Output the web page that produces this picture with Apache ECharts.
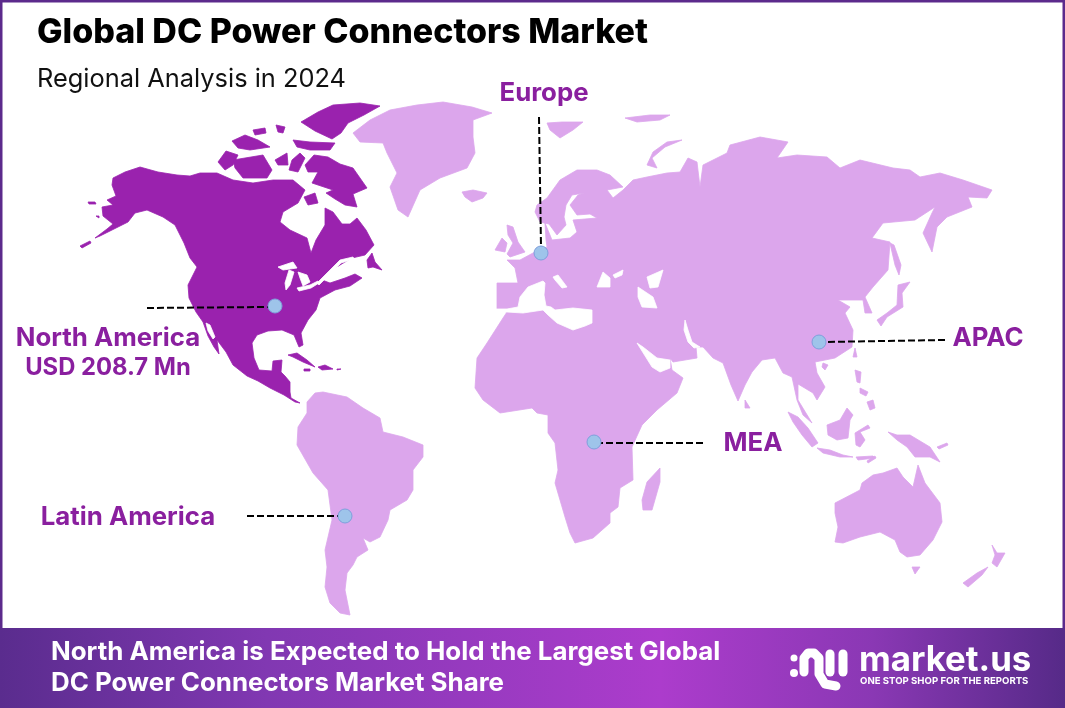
<!DOCTYPE html>
<html>
<head>
<meta charset="utf-8">
<title>Global DC Power Connectors Market</title>
<script src="https://cdn.jsdelivr.net/npm/echarts@6/dist/echarts.min.js"></script>
<style>
  html, body { margin: 0; padding: 0; background: #fff; }
  #chart { width: 1065px; height: 708px; }
</style>
</head>
<body>
<div id="chart"></div>
<script>
var titleText = 'Global DC Power Connectors Market';
var subtitleText = 'Regional Analysis in 2024';
var bannerLines = ['North America is Expected to Hold the Largest Global', 'DC Power Connectors Market Share'];

// callouts, map coordinates are the pixels of the picture
var regionLabels = ['North America\n{v|USD 208.7 Mn}', 'Europe', 'APAC', 'MEA', 'Latin America'];
var labelCoords = [[108, 353], [544, 93], [988, 338], [753, 443], [128, 517]];
var markerCoords = [[275, 306], [541, 253], [819, 342], [594, 442], [345, 516]];
var leaderStarts = [[147, 308], [539, 117], [945, 340], [703, 443], [247, 516]];
var leaderEnds = [[268, 307], [541, 247], [825, 342], [600, 443], [338, 516]];

// outlines
var northAmerica = [
  [[113,178],[125,172],[140,167],[158,172],[177,175],[190,176],[200,173],[217,173],[233,180],[253,183],[273,180],[293,180],[305,190],[298,203],[283,212],[280,222],[290,230],[307,238],[311,253],[316,240],[325,225],[325,208],[333,212],[342,224],[350,224],[357,218],[366,230],[374,245],[365,255],[352,258],[345,262],[335,268],[322,280],[330,283],[345,278],[355,274],[362,278],[350,286],[335,290],[320,298],[316,310],[308,320],[301,333],[303,345],[299,347],[294,335],[282,330],[268,331],[257,335],[252,343],[254,358],[259,370],[272,371],[273,361],[282,360],[281,372],[285,376],[290,382],[290,392],[291,398],[300,403],[295,402],[284,395],[270,388],[258,381],[247,376],[233,365],[226,352],[217,340],[219,354],[214,347],[208,336],[203,322],[196,312],[189,298],[188,285],[197,267],[190,258],[184,243],[175,225],[163,217],[147,210],[135,213],[128,222],[112,230],[100,236],[95,238],[107,229],[113,224],[103,216],[102,207],[113,205],[107,200],[116,196],[112,185]],
  [[218,162],[226,151],[238,155],[233,165],[225,170]],
  [[233,160],[263,155],[272,170],[267,178],[243,178],[235,168]],
  [[275,160],[287,153],[288,165],[278,165]],
  [[289,170],[292,160],[300,153],[305,158],[298,172]],
  [[305,165],[314,155],[328,157],[340,164],[353,168],[367,188],[353,194],[357,207],[345,205],[335,199],[326,193],[333,190],[318,185],[312,183],[318,172],[308,172]],
  [[304,197],[315,193],[318,203],[308,205]],
  [[232,141],[245,135],[258,140],[270,147],[250,150],[238,148]],
  [[253,130],[265,128],[266,133],[255,135]],
  [[276,125],[285,127],[283,133],[278,132]],
  [[293,140],[310,142],[335,143],[330,150],[310,150],[297,147]],
  [[301,122],[318,112],[333,105],[360,103],[380,106],[364,115],[348,123],[341,133],[332,139],[315,131]],
  [[367,260],[372,253],[375,262],[382,270],[373,267],[368,268]],
  [[288,355],[297,353],[307,360],[315,367],[303,362],[293,357]],
  [[318,367],[325,365],[333,369],[322,370]],
  [[304,369],[310,369],[310,371],[304,371]],
  [[337,369],[341,369],[341,370],[337,370]],
  [[80,246],[90,241],[91,243],[82,248]],
  [[88,202],[95,202],[96,204],[89,204]],
  [[96,216],[99,216],[99,218]]
];

var eurasiaAfrica = [[497,283],[518,283],[515,268],[507,260],[520,260],[533,253],[547,247],[546,240],[545,223],[552,240],[570,238],[577,232],[573,220],[597,218],[590,214],[577,215],[570,205],[578,195],[584,193],[572,195],[566,205],[564,217],[566,225],[557,235],[549,224],[540,222],[535,212],[537,205],[547,198],[560,180],[577,170],[597,170],[610,175],[623,187],[607,190],[613,198],[623,190],[633,180],[647,177],[667,173],[680,172],[688,158],[697,162],[700,187],[703,165],[713,160],[727,153],[730,145],[760,137],[788,142],[777,158],[797,155],[827,157],[840,168],[860,160],[893,168],[910,170],[920,177],[940,173],[963,180],[992,190],[987,198],[968,197],[972,207],[947,217],[937,227],[932,252],[923,233],[932,213],[935,207],[915,220],[883,223],[872,238],[890,242],[888,270],[873,287],[865,297],[872,313],[865,313],[863,300],[838,300],[850,307],[845,313],[853,330],[852,347],[835,358],[815,362],[817,373],[825,387],[817,400],[813,393],[798,384],[798,400],[812,423],[803,415],[797,400],[792,377],[783,373],[775,358],[762,360],[752,372],[745,385],[738,401],[731,385],[723,363],[713,358],[703,347],[696,347],[697,358],[685,360],[673,362],[670,358],[672,370],[683,378],[677,393],[657,410],[642,425],[632,447],[633,480],[620,488],[618,507],[610,513],[610,523],[593,538],[575,543],[570,533],[565,517],[560,500],[555,483],[558,470],[555,443],[548,433],[548,415],[537,413],[532,408],[500,413],[483,400],[475,388],[477,358],[487,343],[503,318],[507,312],[497,310]];
var southAmerica = [[307,402],[315,393],[323,392],[347,397],[363,408],[380,418],[383,432],[403,437],[423,445],[423,457],[413,470],[413,490],[407,500],[390,510],[388,520],[380,537],[370,542],[363,538],[368,550],[357,557],[353,565],[347,573],[345,590],[350,615],[340,613],[330,603],[325,587],[327,567],[325,550],[332,520],[328,490],[313,473],[297,445],[298,427],[307,413]];
var greenland = [[353,133],[370,120],[390,110],[417,105],[443,102],[472,107],[492,113],[473,120],[473,137],[475,153],[467,168],[440,178],[420,190],[408,217],[398,210],[390,187],[397,173],[387,153],[383,143],[360,142]];
var australia = [[835,503],[860,490],[862,483],[873,475],[883,473],[897,468],[903,477],[913,487],[918,465],[925,483],[940,503],[942,522],[933,540],[920,555],[907,557],[900,552],[895,540],[880,532],[860,537],[843,543],[835,542],[838,527],[835,513]];
var islands = [
  [[462,192],[473,190],[487,193],[483,198],[472,202],[465,197]],
  [[507,225],[513,227],[518,242],[525,252],[510,257],[507,254],[513,243],[508,235]],
  [[495,250],[502,238],[507,243],[505,252]],
  [[547,123],[562,122],[583,122],[573,130],[560,138],[550,130]],
  [[625,118],[650,115],[670,115],[660,120],[637,122]],
  [[682,140],[667,142],[653,152],[647,165],[657,168],[652,158],[665,147]],
  [[898,285],[910,282],[902,293],[903,307],[887,317],[881,326],[877,320],[887,313],[897,305]],
  [[890,243],[894,245],[901,265],[899,275],[895,265],[892,252]],
  [[745,400],[750,408],[745,408]],
  [[855,348],[857,357],[853,357]],
  [[823,363],[828,365],[825,370],[822,367]],
  [[855,370],[861,372],[860,383],[857,382]],
  [[867,402],[873,400],[875,408],[870,410]],
  [[860,388],[868,392],[866,396],[860,393]],
  [[827,425],[840,420],[847,408],[853,415],[850,420],[848,438],[837,440],[828,435]],
  [[788,412],[798,417],[808,428],[818,443],[812,447],[802,435],[793,422]],
  [[817,448],[830,450],[843,455],[853,457],[840,457],[823,453]],
  [[856,457],[873,456],[875,458],[858,460]],
  [[867,461],[875,456],[876,458],[868,463]],
  [[855,433],[868,425],[870,428],[860,432],[865,440],[860,447],[856,445]],
  [[888,432],[897,435],[910,435],[930,447],[940,462],[930,457],[915,457],[907,447],[897,440]],
  [[937,447],[947,443],[948,445],[939,449]],
  [[912,567],[920,567],[915,574]],
  [[992,545],[997,553],[1005,553],[997,567],[992,563],[995,555]],
  [[988,567],[982,575],[968,587],[963,583],[977,573]],
  [[660,468],[660,482],[652,510],[643,510],[642,500],[647,482]]
];
// seas and lakes painted over the land
var seas = [
  [[496,309],[507,309],[518,307],[520,297],[528,287],[543,281],[545,283],[544,295],[546,306],[551,307],[555,310],[573,308],[592,310],[592,323],[585,326],[573,330],[557,323],[548,315],[543,310],[523,313],[507,312],[496,312]],
  [[553,277],[558,275],[567,287],[562,288],[555,280]],
  [[597,287],[603,272],[610,278],[610,287]],
  [[613,275],[623,270],[622,275],[615,278]],
  [[638,287],[653,297],[657,308],[642,307],[638,297]],
  [[647,277],[663,270],[658,287],[650,288]],
  [[637,343],[643,347],[657,358],[670,360],[670,368],[660,372],[652,367]],
  [[685,320],[688,330],[692,342],[700,347],[694,348],[688,342],[684,330]],
  [[278,267],[293,262],[297,268],[283,270]],
  [[289,270],[294,272],[290,285],[286,290],[285,283]],
  [[298,272],[307,275],[310,282],[303,286],[300,278]],
  [[297,288],[310,285],[318,281],[319,283],[311,288],[299,291]],
  [[317,283],[340,260],[353,257],[354,259],[341,263],[319,285]],
  [[206,323],[210,325],[215,337],[213,339],[208,331]]
];

function toMulti(rings) {
  return rings.map(function (r) { return [r]; });
}
function feature(name, rings) {
  return { type: 'Feature', properties: { name: name }, geometry: { type: 'MultiPolygon', coordinates: toMulti(rings) } };
}
echarts.registerMap('world', {
  type: 'FeatureCollection',
  features: [
    feature('North America', northAmerica),
    feature('Rest', [eurasiaAfrica, southAmerica, greenland, australia].concat(islands)),
    feature('Water', seas)
  ]
});

var chart = echarts.init(document.getElementById('chart'));
var labelFont = 'Inter';
var labelData = regionLabels.map(function (n, i) { return { name: n, value: labelCoords[i] }; });
var leaderData = leaderStarts.map(function (s, i) { return { coords: [s, leaderEnds[i]] }; });

chart.setOption({
  backgroundColor: '#fff',
  animation: false,
  title: [
    { text: titleText, left: 32, top: 11, textStyle: { fontFamily: labelFont, fontSize: 34, fontWeight: 800, color: '#000' } },
    { text: subtitleText, left: 32, top: 62, textStyle: { fontFamily: labelFont, fontSize: 25.4, fontWeight: 400, color: '#111' } }
  ],
  geo: {
    map: 'world',
    silent: true,
    roam: false,
    projection: {
      project: function (p) { return p; },
      unproject: function (p) { return p; }
    },
    boundingCoords: [[0, 0], [1065, 708]],
    left: 0, top: 0, right: 0, bottom: 0,
    itemStyle: { areaColor: '#dca6ec', borderColor: '#dca6ec', borderWidth: 0.8, borderJoin: 'round' },
    regions: [
      { name: 'North America', itemStyle: { areaColor: '#9a22ae', borderColor: '#9a22ae', borderWidth: 0.8, borderJoin: 'round' } },
      { name: 'Water', itemStyle: { areaColor: '#fff', borderColor: '#fff', borderWidth: 0.8, borderJoin: 'round' } }
    ]
  },
  series: [
    {
      type: 'lines',
      coordinateSystem: 'geo',
      silent: true,
      z: 3,
      lineStyle: { color: '#000', width: 2, type: [7, 3], opacity: 1, curveness: 0 },
      data: leaderData
    },
    {
      type: 'scatter',
      coordinateSystem: 'geo',
      silent: true,
      z: 4,
      symbolSize: 14,
      itemStyle: { color: '#9ec4ea', borderColor: '#7f9fdc', borderWidth: 1, opacity: 1 },
      data: markerCoords
    },
    {
      type: 'scatter',
      coordinateSystem: 'geo',
      silent: true,
      z: 5,
      symbolSize: 1,
      itemStyle: { color: 'transparent', opacity: 1 },
      label: {
        show: true,
        position: 'inside',
        formatter: '{b}',
        fontFamily: labelFont,
        fontSize: 25.8,
        fontWeight: 700,
        lineHeight: 30,
        color: '#8a1f9f',
        rich: { v: { fontFamily: labelFont, fontSize: 23.8, fontWeight: 700, lineHeight: 30, color: '#8a1f9f' } }
      },
      data: labelData
    }
  ],
  graphic: [
    { type: 'rect', z: 1, silent: true, shape: { x: 1, y: 1, width: 1063, height: 706 }, style: { fill: 'none', stroke: '#5c2a8c', lineWidth: 3 } },
    {
      type: 'rect', z: 10, silent: true,
      shape: { x: 0, y: 628, width: 1065, height: 80 },
      style: {
        fill: new echarts.graphic.LinearGradient(0, 0, 1, 0, [
          { offset: 0, color: '#5a2c8e' },
          { offset: 0.25, color: '#8138b2' },
          { offset: 0.62, color: '#ac3ccc' },
          { offset: 0.82, color: '#8a38b4' },
          { offset: 1, color: '#562a88' }
        ])
      }
    },
    { type: 'text', z: 11, silent: true, style: { x: 51, y: 652, text: bannerLines[0], fill: '#fff', font: '700 25.9px Inter', textVerticalAlign: 'middle' } },
    { type: 'text', z: 11, silent: true, style: { x: 51, y: 683, text: bannerLines[1], fill: '#fff', font: '700 25.9px Inter', textVerticalAlign: 'middle' } },
    // logo
    { type: 'circle', z: 11, silent: true, shape: { cx: 794, cy: 658, r: 3.5 }, style: { fill: '#fff' } },
    { type: 'circle', z: 11, silent: true, shape: { cx: 794, cy: 673, r: 4 }, style: { fill: '#fff' } },
    { type: 'polyline', z: 11, silent: true, shape: { points: [[804, 672], [804, 658], [808, 653], [814, 653], [819, 658], [819, 674], [825, 684], [836, 686]] }, style: { stroke: '#fff', fill: 'none', lineWidth: 9, lineCap: 'round', lineJoin: 'round' } },
    { type: 'line', z: 11, silent: true, shape: { x1: 830, y1: 654, x2: 830, y2: 672 }, style: { stroke: '#fff', lineWidth: 9, lineCap: 'round' } },
    { type: 'line', z: 11, silent: true, shape: { x1: 843, y1: 654, x2: 843, y2: 672 }, style: { stroke: '#fff', lineWidth: 9, lineCap: 'round' } },
    { type: 'text', z: 11, silent: true, style: { x: 859, y: 661, text: 'market.us', fill: '#fff', font: '700 34.8px Inter', textVerticalAlign: 'middle' } },
    { type: 'text', z: 11, silent: true, style: { x: 860, y: 681, text: 'ONE STOP SHOP FOR THE REPORTS', fill: '#fff', font: '700 9.6px Inter', textVerticalAlign: 'middle' } }
  ]
});
</script>
</body>
</html>
